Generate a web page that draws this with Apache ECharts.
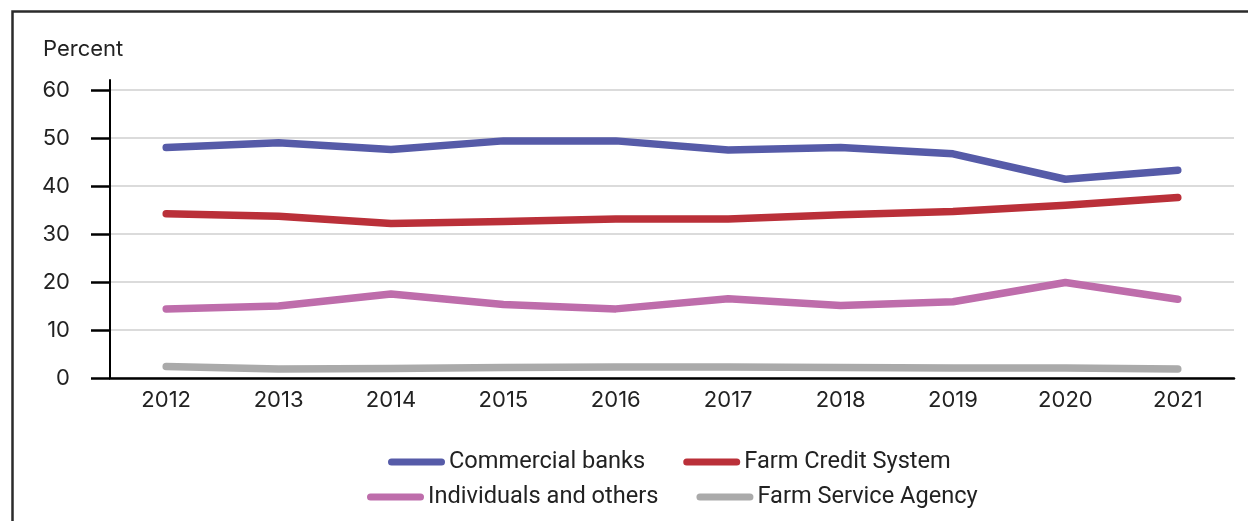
<!DOCTYPE html>
<html>
<head>
<meta charset="utf-8">
<script src="https://cdn.jsdelivr.net/npm/echarts@6/dist/echarts.min.js"></script>
<style>
  html, body { margin: 0; padding: 0; background: #ffffff; }
  #chart { width: 1248px; height: 521px; }
</style>
</head>
<body>
<div id="chart"></div>
<script>
// Share of farm debt by lender type, 2012–2021
const years = ['2012', '2013', '2014', '2015', '2016', '2017', '2018', '2019', '2020', '2021'];
const commercialBanks = [48.0, 49.0, 47.6, 49.4, 49.4, 47.5, 48.0, 46.7, 41.4, 43.3];
const farmCreditSystem = [34.2, 33.7, 32.2, 32.6, 33.1, 33.1, 34.0, 34.7, 36.0, 37.6];
const individualsAndOthers = [14.4, 15.0, 17.5, 15.3, 14.4, 16.5, 15.1, 15.9, 19.9, 16.4];
const farmServiceAgency = [2.4, 1.9, 2.0, 2.2, 2.3, 2.3, 2.2, 2.1, 2.1, 1.9];
const yTicks = [0, 10, 20, 30, 40, 50, 60];

const axisFont = 'Inter, "Noto Sans", sans-serif';
const legendFont = 'Roboto, "Noto Sans", sans-serif';
const textColor = '#222222';
const pillIcon = 'path://M3.5,0 L53.5,0 A3.5,3.5 0 0 1 53.5,7 L3.5,7 A3.5,3.5 0 0 1 3.5,0 Z';

function lineSeries(name, data, color) {
  return {
    name: name,
    type: 'line',
    data: data,
    showSymbol: false,
    symbol: 'none',
    lineStyle: { color: color, width: 7.5, cap: 'round', join: 'round' },
    itemStyle: { color: color },
    emphasis: { disabled: true },
    animation: false
  };
}

function legendRow(names, left, top) {
  return {
    data: names,
    left: left,
    top: top,
    padding: 0,
    icon: pillIcon,
    itemWidth: 57,
    itemHeight: 7,
    itemGap: 38,
    textStyle: { fontFamily: legendFont, fontSize: 23.6, color: textColor, padding: [0, 0, 0, -1] }
  };
}

const chart = echarts.init(document.getElementById('chart'), null, { renderer: 'canvas' });

chart.setOption({
  animation: false,
  backgroundColor: '#ffffff',
  title: {
    text: 'Percent',
    left: 38,
    top: 33,
    textStyle: { fontFamily: axisFont, fontSize: 22, fontWeight: 'normal', color: textColor }
  },
  graphic: [
    {
      type: 'polyline',
      shape: { points: [[12.5, 521], [12.5, 11.5], [1248, 11.5]] },
      style: { stroke: '#2b2b2b', lineWidth: 2.5, fill: null },
      silent: true
    }
  ],
  legend: [
    legendRow(['Commercial banks', 'Farm Credit System'], 388, 450),
    legendRow(['Individuals and others', 'Farm Service Agency'], 367, 485)
  ],
  grid: [
    { left: 110, right: 14, top: 90, bottom: 143, containLabel: false },
    { left: 110, right: 14, top: 80, bottom: 143, containLabel: false }
  ],
  xAxis: [
    {
      type: 'category',
      gridIndex: 0,
      data: years,
      boundaryGap: true,
      axisLine: { show: true, onZero: false, lineStyle: { color: '#000000', width: 2.5 } },
      axisTick: { show: false },
      axisLabel: { fontFamily: axisFont, fontSize: 22, color: textColor, margin: 11 }
    },
    { type: 'category', gridIndex: 1, data: years, show: false }
  ],
  yAxis: [
    {
      type: 'value',
      gridIndex: 0,
      min: yTicks[0],
      max: yTicks[yTicks.length - 1],
      interval: 10,
      axisLine: { show: true, lineStyle: { color: '#000000', width: 2 } },
      axisTick: { show: true, inside: false, length: 19, lineStyle: { color: '#000000', width: 2.5 } },
      axisLabel: { fontFamily: axisFont, fontSize: 22, color: textColor, margin: 40 },
      splitLine: { show: true, lineStyle: { color: '#cfcfcf', width: 1.5 } }
    },
    {
      // vertical axis line running slightly above the top gridline
      type: 'value',
      gridIndex: 1,
      min: 0,
      max: 1,
      axisLine: { show: true, lineStyle: { color: '#000000', width: 2 } },
      axisTick: { show: false },
      axisLabel: { show: false },
      splitLine: { show: false }
    }
  ],
  series: [
    lineSeries('Commercial banks', commercialBanks, '#565ba8'),
    lineSeries('Farm Credit System', farmCreditSystem, '#ba3039'),
    lineSeries('Individuals and others', individualsAndOthers, '#be6dab'),
    lineSeries('Farm Service Agency', farmServiceAgency, '#aaaaaa')
  ]
});
</script>
</body>
</html>
